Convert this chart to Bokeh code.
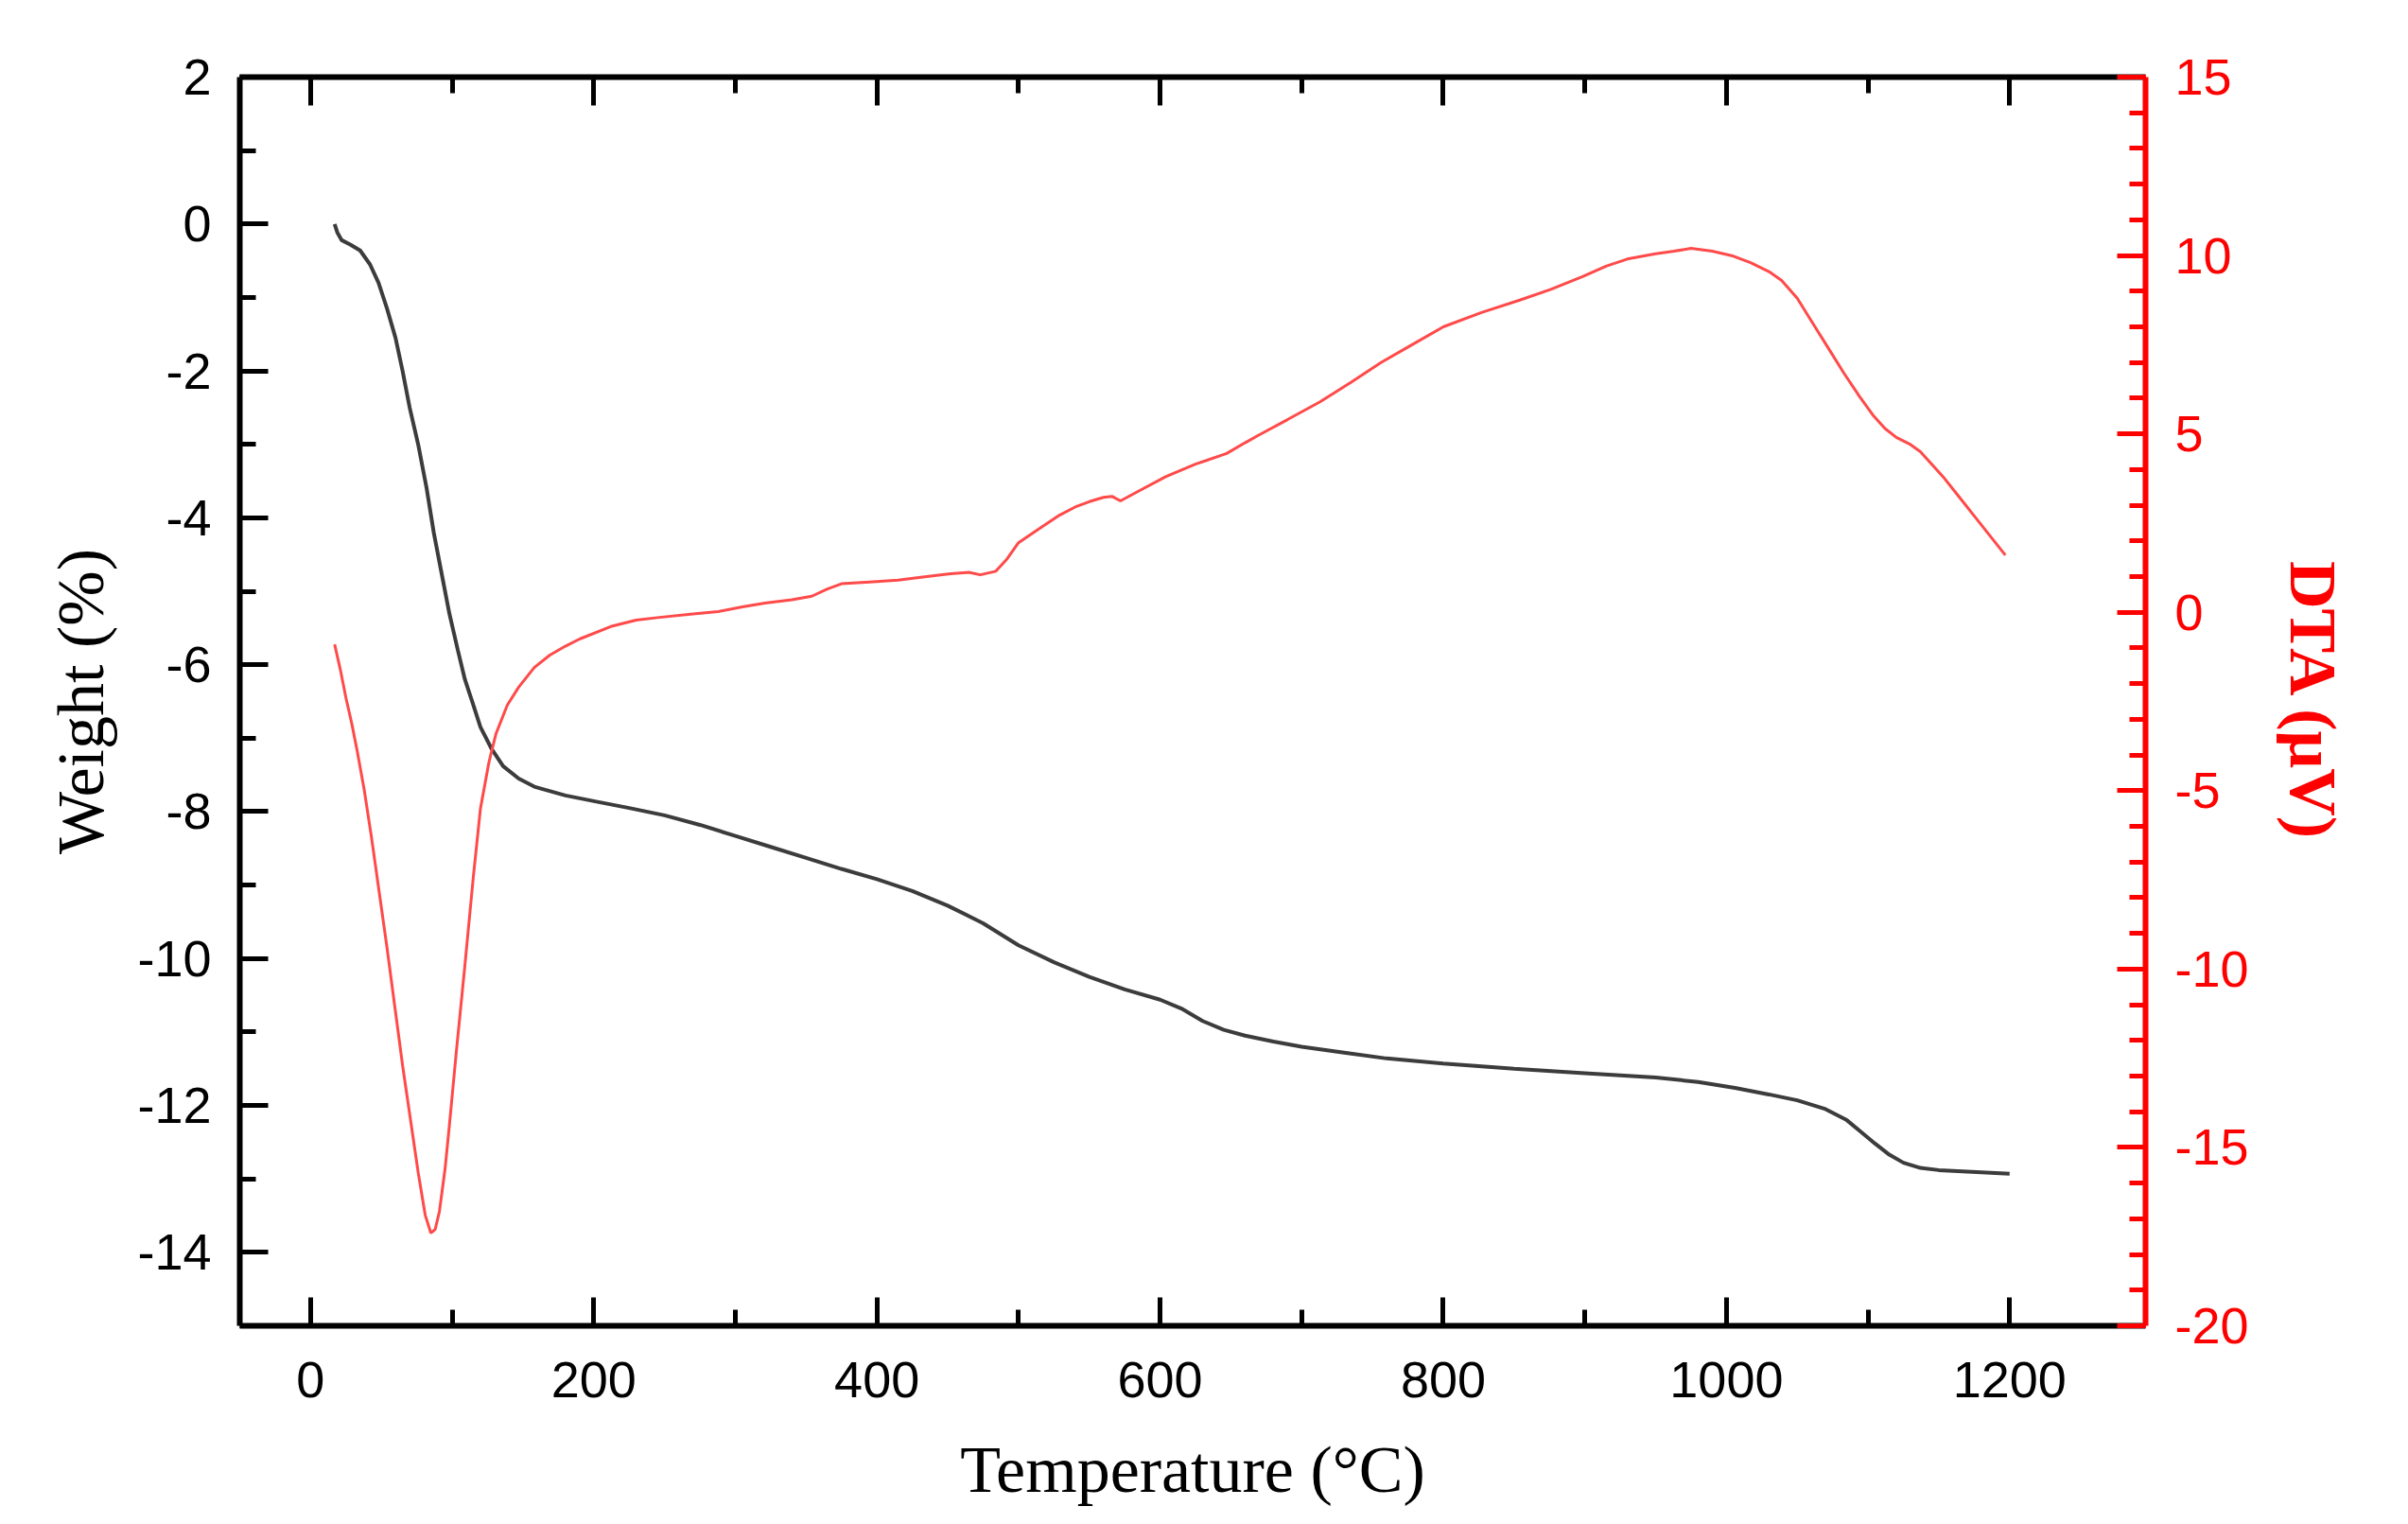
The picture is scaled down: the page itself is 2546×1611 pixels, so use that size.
from bokeh.plotting import figure
from bokeh.models import Range1d, LinearAxis, SingleIntervalTicker, CustomJSTickFormatter
from bokeh.embed import file_html
from bokeh.resources import INLINE

# ---- data ----
tg_temp = [17, 19, 22, 28, 35, 42, 48, 54, 60, 65, 70, 76, 82, 87, 93, 98, 104, 109, 115, 120,
           128, 136, 147, 158, 180, 201, 225, 250, 275, 300, 325, 350, 375, 400, 425, 450, 475,
           500, 525, 550, 575, 600, 615, 630, 645, 660, 680, 700, 730, 760, 800, 850, 900, 950,
           980, 1006, 1030, 1050, 1070, 1085, 1095, 1105, 1115, 1125, 1137, 1150, 1170, 1200]
tg_weight = [0.0, -0.12, -0.22, -0.28, -0.36, -0.55, -0.8, -1.15, -1.55, -2.0, -2.5, -3.0, -3.6,
             -4.2, -4.8, -5.3, -5.8, -6.2, -6.55, -6.85, -7.15, -7.38, -7.55, -7.66, -7.78, -7.86,
             -7.95, -8.05, -8.18, -8.33, -8.48, -8.63, -8.78, -8.92, -9.08, -9.28, -9.52, -9.82,
             -10.05, -10.25, -10.42, -10.56, -10.68, -10.85, -10.97, -11.05, -11.13, -11.2, -11.28,
             -11.36, -11.43, -11.5, -11.56, -11.62, -11.68, -11.76, -11.85, -11.93, -12.05, -12.2,
             -12.36, -12.52, -12.67, -12.78, -12.85, -12.88, -12.9, -12.93]

dta_temp = [17, 21, 25, 29, 33, 38, 43, 54, 65, 76, 81, 85, 88, 91, 95, 98, 103, 109, 115, 120,
            126, 131, 139, 147, 158, 169, 180, 190, 212, 230, 245, 270, 288, 305, 321, 340, 354,
            365, 375, 395, 415, 435, 452, 465, 473, 484, 492, 500, 515, 528, 540, 550, 560, 566,
            572, 585, 604, 625, 647, 660, 669, 690, 713, 735, 756, 778, 800, 827, 854, 876, 898,
            915, 930, 950, 963, 975, 990, 1005, 1017, 1030, 1039, 1050, 1061, 1072, 1083, 1094,
            1104, 1112, 1120, 1130, 1137, 1145, 1153, 1165, 1175, 1186, 1197]
dta_uv = [-0.9, -1.6, -2.4, -3.1, -3.9, -5.0, -6.3, -9.4, -12.7, -15.7, -16.9, -17.4, -17.3,
          -16.8, -15.6, -14.4, -12.3, -9.9, -7.4, -5.5, -4.2, -3.4, -2.6, -2.1, -1.55, -1.2, -0.95,
          -0.75, -0.4, -0.22, -0.15, -0.05, 0.02, 0.15, 0.26, 0.35, 0.45, 0.65, 0.8, 0.85, 0.9, 1.0,
          1.08, 1.12, 1.05, 1.15, 1.5, 1.95, 2.35, 2.7, 2.95, 3.1, 3.22, 3.25, 3.12, 3.4, 3.8, 4.15,
          4.45, 4.75, 4.95, 5.4, 5.9, 6.45, 7.0, 7.5, 8.0, 8.4, 8.75, 9.05, 9.4, 9.7, 9.9, 10.05,
          10.12, 10.2, 10.12, 9.98, 9.8, 9.55, 9.3, 8.8, 8.1, 7.4, 6.7, 6.05, 5.5, 5.15, 4.9, 4.7,
          4.5, 4.15, 3.8, 3.2, 2.7, 2.15, 1.6]

x_label = "Temperature (°C)"
left_label = "Weight (%)"
right_label = "DTA (μV)"

p = figure(width=2530, height=1603,
           x_range=Range1d(-50, 1296), y_range=Range1d(-15, 2),
           output_backend="svg", toolbar_location=None,
           min_border_left=253, min_border_right=262,
           min_border_top=81, min_border_bottom=202)
p.extra_y_ranges = {"dta": Range1d(-20, 15)}
p.xgrid.visible = False
p.ygrid.visible = False
p.outline_line_color = None
p.background_fill_color = "white"
p.border_fill_color = "white"

plain = CustomJSTickFormatter(code="return tick.toString()")


def style(ax, color, ticker, standoff):
    ax.ticker = ticker
    ax.formatter = plain
    ax.axis_line_color = color
    ax.axis_line_width = 6
    ax.major_tick_line_color = color
    ax.major_tick_line_width = 5
    ax.minor_tick_line_color = color
    ax.minor_tick_line_width = 5
    ax.major_tick_in = 30
    ax.major_tick_out = 0
    ax.minor_tick_in = 17
    ax.minor_tick_out = 0
    ax.major_label_text_color = color
    ax.major_label_text_font = "Liberation Sans"
    ax.major_label_text_font_size = "54px"
    ax.major_label_standoff = standoff


bottom = p.xaxis[0]
style(bottom, "black", SingleIntervalTicker(interval=200, num_minor_ticks=2), 38)
bottom.axis_label = x_label
bottom.axis_label_text_font = "Liberation Serif"
bottom.axis_label_text_font_style = "normal"
bottom.axis_label_text_font_size = "70px"
bottom.axis_label_text_color = "black"
bottom.axis_label_standoff = 35

left = p.yaxis[0]
style(left, "black", SingleIntervalTicker(interval=2, num_minor_ticks=2), 30)
left.axis_label = left_label
left.axis_label_text_font = "Liberation Serif"
left.axis_label_text_font_style = "normal"
left.axis_label_text_font_size = "70px"
left.axis_label_text_color = "black"
left.axis_label_standoff = 18

top = LinearAxis()
style(top, "black", SingleIntervalTicker(interval=200, num_minor_ticks=2), 0)
top.formatter = CustomJSTickFormatter(code="return ''")
p.add_layout(top, "above")

right = LinearAxis(y_range_name="dta")
style(right, "#ff0000", SingleIntervalTicker(interval=5, num_minor_ticks=5), 31)
right.axis_label = right_label
right.axis_label_text_font = "Liberation Serif"
right.axis_label_text_font_style = "bold"
right.axis_label_text_font_size = "70px"
right.axis_label_text_color = "#ff0000"
right.axis_label_standoff = 26
p.add_layout(right, "right")

p.line(tg_temp, tg_weight, line_color="#3c3c3c", line_width=4)
p.line(dta_temp, dta_uv, line_color="#ff4a4a", line_width=3, y_range_name="dta")

open("out.html", "w").write(file_html(p, INLINE))
